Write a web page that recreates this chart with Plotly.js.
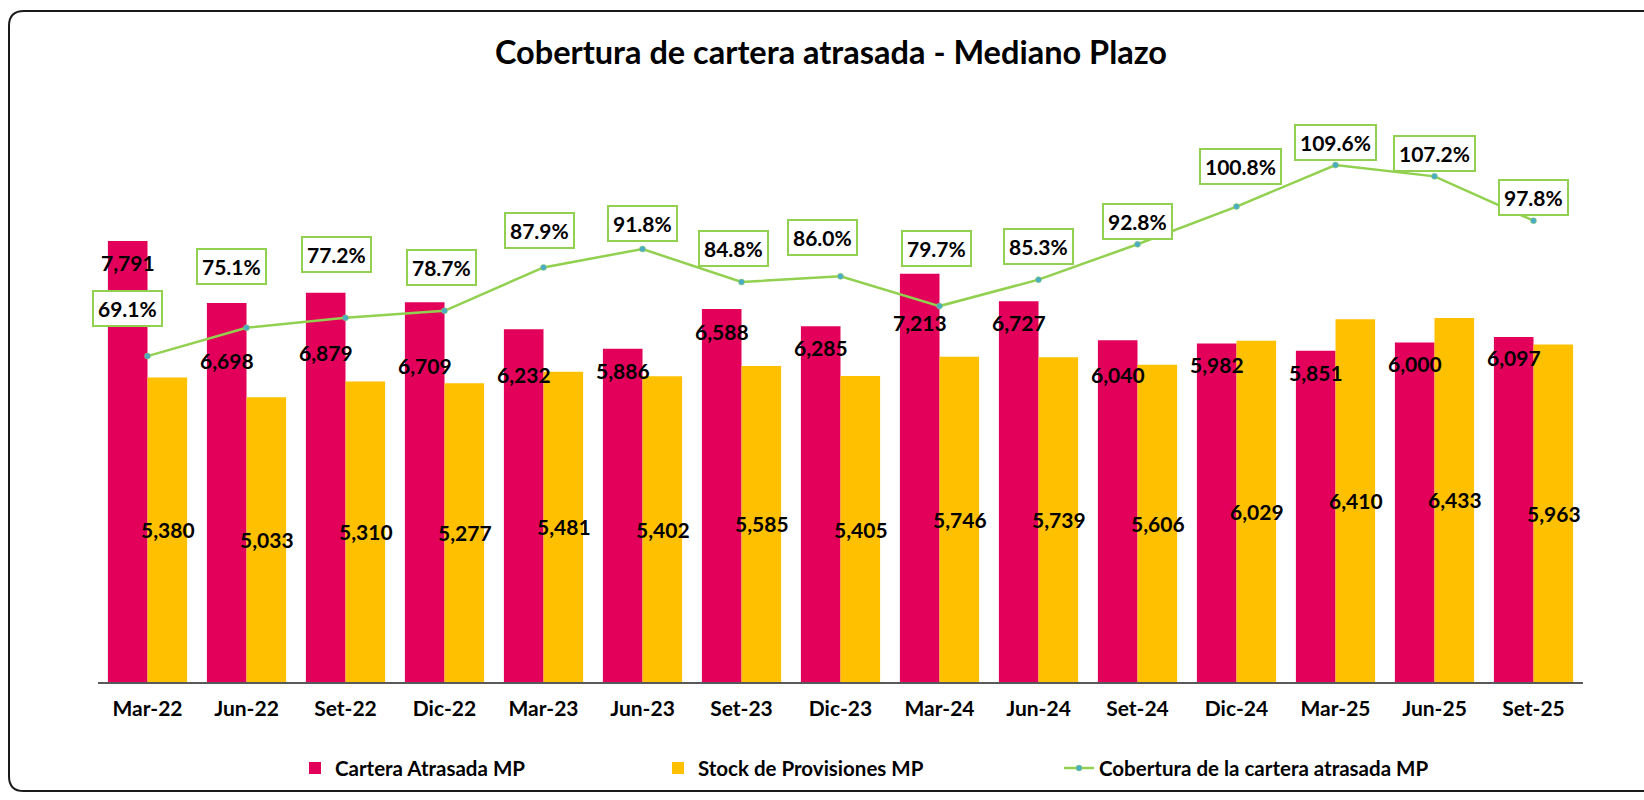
<!DOCTYPE html>
<html>
<head>
<meta charset="utf-8">
<script src="https://cdn.plot.ly/plotly-3.0.1.min.js"></script>
<style>
  html, body { margin: 0; padding: 0; background: #ffffff; }
  #chart { width: 1644px; height: 800px; }
</style>
</head>
<body>
<div id="chart"></div>
<script>
// ---- Data ----
const categories = ['Mar-22','Jun-22','Set-22','Dic-22','Mar-23','Jun-23','Set-23','Dic-23','Mar-24','Jun-24','Set-24','Dic-24','Mar-25','Jun-25','Set-25'];
const carteraAtrasada = [7791, 6698, 6879, 6709, 6232, 5886, 6588, 6285, 7213, 6727, 6040, 5982, 5851, 6000, 6097];
const stockProvisiones = [5380, 5033, 5310, 5277, 5481, 5402, 5585, 5405, 5746, 5739, 5606, 6029, 6410, 6433, 5963];
const cobertura = [69.1, 75.1, 77.2, 78.7, 87.9, 91.8, 84.8, 86.0, 79.7, 85.3, 92.8, 100.8, 109.6, 107.2, 97.8];

// ---- Label placement (style only, pixels) ----
const carteraLabelDrop = [21, 58, 60, 63, 45, 22, 22, 21, 49, 21, 34, 21, 22, 21, 21];
const coberturaLabelDx = [-20, -15, -9, -3, -4, 0, -8, -18, -3, 0, 0, 4, 0, 0, 0];
const coberturaLabelDy = [48, 61, 63, 43, 37, 26, 34, 39, 58, 33, 23, 40, 23, 23, 23];

const RED = '#E3005B';
const YELLOW = '#FFC000';
const GREEN = '#92D050';
const FONT = 'Lato, "Open Sans", sans-serif';

const W = 1644, H = 800;
const M = {l: 98, r: 61, t: 116, b: 113};
const PW = W - M.l - M.r, PH = H - M.t - M.b;
const px = x => (x - M.l) / PW;
const py = y => (H - M.b - y) / PH;

const fmt = v => v.toLocaleString('en-US');
const labelFont = {family: FONT, size: 21, color: '#000', weight: 'bold'};

const traces = [
  {
    type: 'bar', name: 'Cartera Atrasada MP', x: categories, y: carteraAtrasada,
    marker: {color: RED}, hoverinfo: 'skip', legend: 'legend'
  },
  {
    type: 'bar', name: 'Stock de Provisiones MP', x: categories, y: stockProvisiones,
    marker: {color: YELLOW}, hoverinfo: 'skip', legend: 'legend2'
  },
  {
    type: 'scatter', mode: 'lines+markers', name: 'Cobertura de la cartera atrasada MP',
    x: categories, y: cobertura, yaxis: 'y2',
    line: {color: GREEN, width: 2.5},
    marker: {color: '#4BACC6', size: 6, line: {color: GREEN, width: 0.5}},
    hoverinfo: 'skip', legend: 'legend3'
  }
];

const annotations = [];
categories.forEach((c, i) => {
  annotations.push({
    x: c, y: carteraAtrasada[i], xref: 'x', yref: 'y',
    text: fmt(carteraAtrasada[i]), showarrow: false,
    xshift: -20, yshift: -carteraLabelDrop[i], yanchor: 'middle',
    font: labelFont
  });
  annotations.push({
    x: c, y: stockProvisiones[i] / 2, xref: 'x', yref: 'y',
    text: fmt(stockProvisiones[i]), showarrow: false,
    xshift: 20, yanchor: 'middle',
    font: labelFont
  });
  annotations.push({
    x: c, y: cobertura[i], xref: 'x', yref: 'y2',
    text: cobertura[i].toFixed(1) + '%', showarrow: false,
    xshift: coberturaLabelDx[i], yshift: coberturaLabelDy[i], yanchor: 'middle',
    bgcolor: '#ffffff', bordercolor: GREEN, borderwidth: 2, borderpad: 4,
    font: labelFont
  });
});

// rounded frame
const fl = 9, ft = 10, fb = 797, fr = 1700, rr = 15;
const framePath = `M ${px(fr)},${py(ft)} L ${px(fl + rr)},${py(ft)} Q ${px(fl)},${py(ft)} ${px(fl)},${py(ft + rr)} ` +
  `L ${px(fl)},${py(fb - rr)} Q ${px(fl)},${py(fb)} ${px(fl + rr)},${py(fb)} L ${px(fr)},${py(fb)}`;

const legendBase = {
  orientation: 'h', xanchor: 'left', y: py(774), yanchor: 'middle',
  font: {family: FONT, size: 20.5, color: '#000', weight: 'bold'},
  bgcolor: 'rgba(0,0,0,0)', borderwidth: 0
};

const layout = {
  width: W, height: H, autosize: false,
  margin: M,
  paper_bgcolor: '#ffffff', plot_bgcolor: '#ffffff',
  font: {family: FONT, color: '#000'},
  title: {
    text: '<b>Cobertura de cartera atrasada - Mediano Plazo</b>',
    font: {family: FONT, size: 32.5, color: '#000'},
    x: 831 / W, xref: 'container', xanchor: 'center',
    y: 1 - 53 / H, yref: 'container', yanchor: 'middle'
  },
  barmode: 'group', bargap: 0.2, bargroupgap: 0,
  xaxis: {
    type: 'category', range: [-0.5, 14.5],
    showline: true, linecolor: '#595959', linewidth: 2,
    showgrid: false, zeroline: false, ticks: '',
    ticklabelstandoff: 7,
    tickfont: {family: FONT, size: 21, color: '#000', weight: 'bold'},
    fixedrange: true
  },
  yaxis: {range: [0, 10000], visible: false, showgrid: false, zeroline: false, fixedrange: true},
  yaxis2: {range: [0, 120], overlaying: 'y', side: 'right', visible: false, showgrid: false, zeroline: false, fixedrange: true},
  showlegend: true,
  legend: Object.assign({}, legendBase, {x: px(295)}),
  legend2: Object.assign({}, legendBase, {x: px(658)}),
  legend3: Object.assign({}, legendBase, {x: px(1059)}),
  annotations: annotations,
  shapes: [{
    type: 'path', xref: 'paper', yref: 'paper', path: framePath,
    line: {color: '#1a1a1a', width: 2}, layer: 'above'
  }]
};

Plotly.newPlot('chart', traces, layout, {displayModeBar: false, staticPlot: true});
</script>
</body>
</html>
